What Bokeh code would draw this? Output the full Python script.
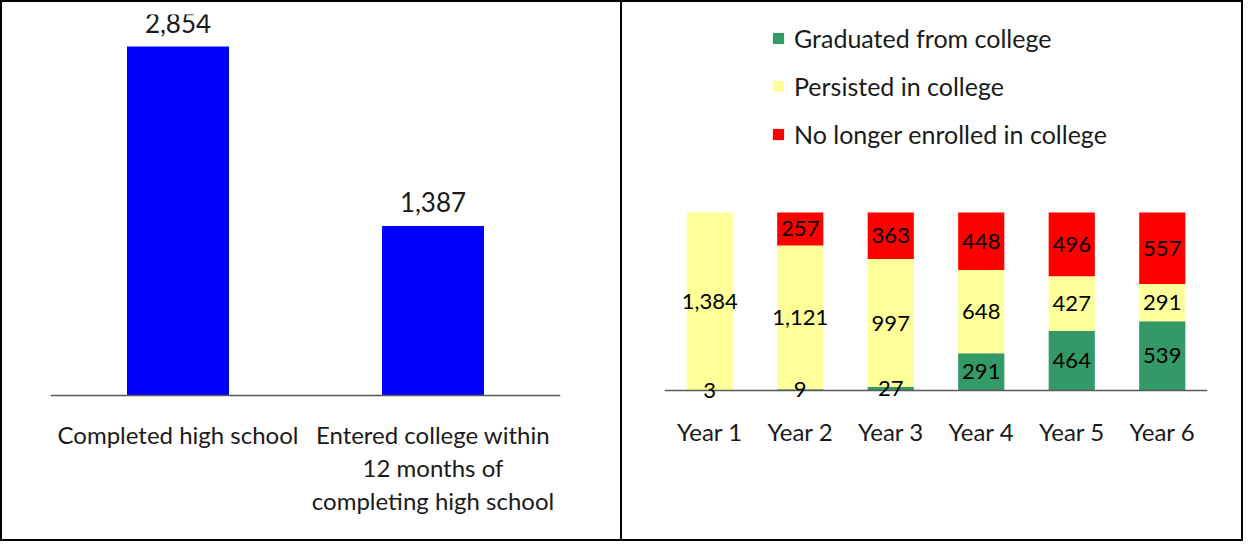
from bokeh.plotting import figure
from bokeh.layouts import row
from bokeh.models import ColumnDataSource, Range1d, FactorRange, LabelSet, Span
from bokeh.core.properties import value
from bokeh.embed import file_html
from bokeh.resources import INLINE

FONT = "Lato"

# ---- left panel data ----
left_cats = ["Completed high school",
             "Entered college within\n12 months of\ncompleting high school"]
left_vals = [2854, 1387]

# ---- right panel data ----
years = ["Year 1", "Year 2", "Year 3", "Year 4", "Year 5", "Year 6"]
graduated = [3, 9, 27, 291, 464, 539]
persisted = [1384, 1121, 997, 648, 427, 291]
no_longer = [0, 257, 363, 448, 496, 557]
series_keys = ["graduated", "persisted", "no_longer"]
series_names = ["Graduated from college", "Persisted in college",
                "No longer enrolled in college"]
series_colors = ["#339966", "#FFFF99", "#FF0000"]

TXT = "#1a1a1a"
AXIS_COLOR = "#595959"

# ================= left figure =================
p1 = figure(x_range=FactorRange(*left_cats), y_range=Range1d(-82, 3116),
            width=622, height=541, output_backend="svg", toolbar_location=None,
            y_axis_location=None, min_border_left=48, min_border_right=64,
            min_border_top=12, min_border_bottom=138,
            styles={"border": "2px solid black"})
src1 = ColumnDataSource(dict(cat=left_cats, val=left_vals,
                             lbl=["{:,}".format(v) for v in left_vals]))
p1.vbar(x="cat", top="val", width=0.40, source=src1, fill_color="#0000FF", line_color=None)
p1.add_layout(Span(location=0, dimension="width", line_color=AXIS_COLOR, line_width=1.5))
p1.add_layout(LabelSet(x="cat", y="val", text="lbl", source=src1, text_align="center",
                       text_baseline="bottom", y_offset=14, text_font=value(FONT),
                       text_font_size="26px", text_color=TXT))
ax1 = p1.xaxis[0]
ax1.major_label_standoff = 8
ax1.major_label_text_line_height = 1.15

# ================= right figure =================
p2 = figure(x_range=FactorRange(*years), y_range=Range1d(-117, 2930),
            width=621, height=541, output_backend="svg", toolbar_location=None,
            y_axis_location=None, min_border_left=42, min_border_right=36,
            min_border_top=12, min_border_bottom=138,
            styles={"border-top": "2px solid black", "border-right": "2px solid black",
                    "border-bottom": "2px solid black"})
src2 = ColumnDataSource(dict(year=years, graduated=graduated,
                             persisted=persisted, no_longer=no_longer))
p2.vbar_stack(series_keys, x="year", width=0.51, source=src2,
              fill_color=series_colors, line_color=None,
              legend_label=series_names)
p2.add_layout(Span(location=0, dimension="width", line_color=AXIS_COLOR, line_width=1.5))

lx, ly, lt = [], [], []
for i, y in enumerate(years):
    base = 0
    for s in (graduated, persisted, no_longer):
        v = s[i]
        if v > 0:
            lx.append(y)
            ly.append(base + v / 2)
            lt.append("{:,}".format(v))
        base += v
src3 = ColumnDataSource(dict(x=lx, y=ly, t=lt))
p2.add_layout(LabelSet(x="x", y="y", text="t", source=src3, text_align="center",
                       text_baseline="middle", text_font=value(FONT), text_font_size="22px",
                       text_color="#000000"))
ax2 = p2.xaxis[0]
ax2.major_label_standoff = 5
ax2.major_label_text_line_height = 1.1

leg = p2.legend[0]
leg.location = (107, 256)
leg.glyph_width = 14
leg.glyph_height = 14
leg.label_standoff = 9
leg.spacing = 18
leg.padding = 0
leg.margin = 0
leg.border_line_color = None
leg.background_fill_alpha = 0
leg.label_text_font = FONT
leg.label_text_font_size = "25px"
leg.label_text_color = TXT

for p in (p1, p2):
    p.xgrid.grid_line_color = None
    p.ygrid.grid_line_color = None
    p.outline_line_color = None
    ax = p.xaxis[0]
    ax.axis_line_color = None
    ax.major_tick_line_color = None
    ax.minor_tick_line_color = None
    ax.major_label_text_font = FONT
    ax.major_label_text_font_size = "24px"
    ax.major_label_text_color = TXT

layout = row(p1, p2, spacing=0)
open("out.html", "w").write(file_html(layout, INLINE))
